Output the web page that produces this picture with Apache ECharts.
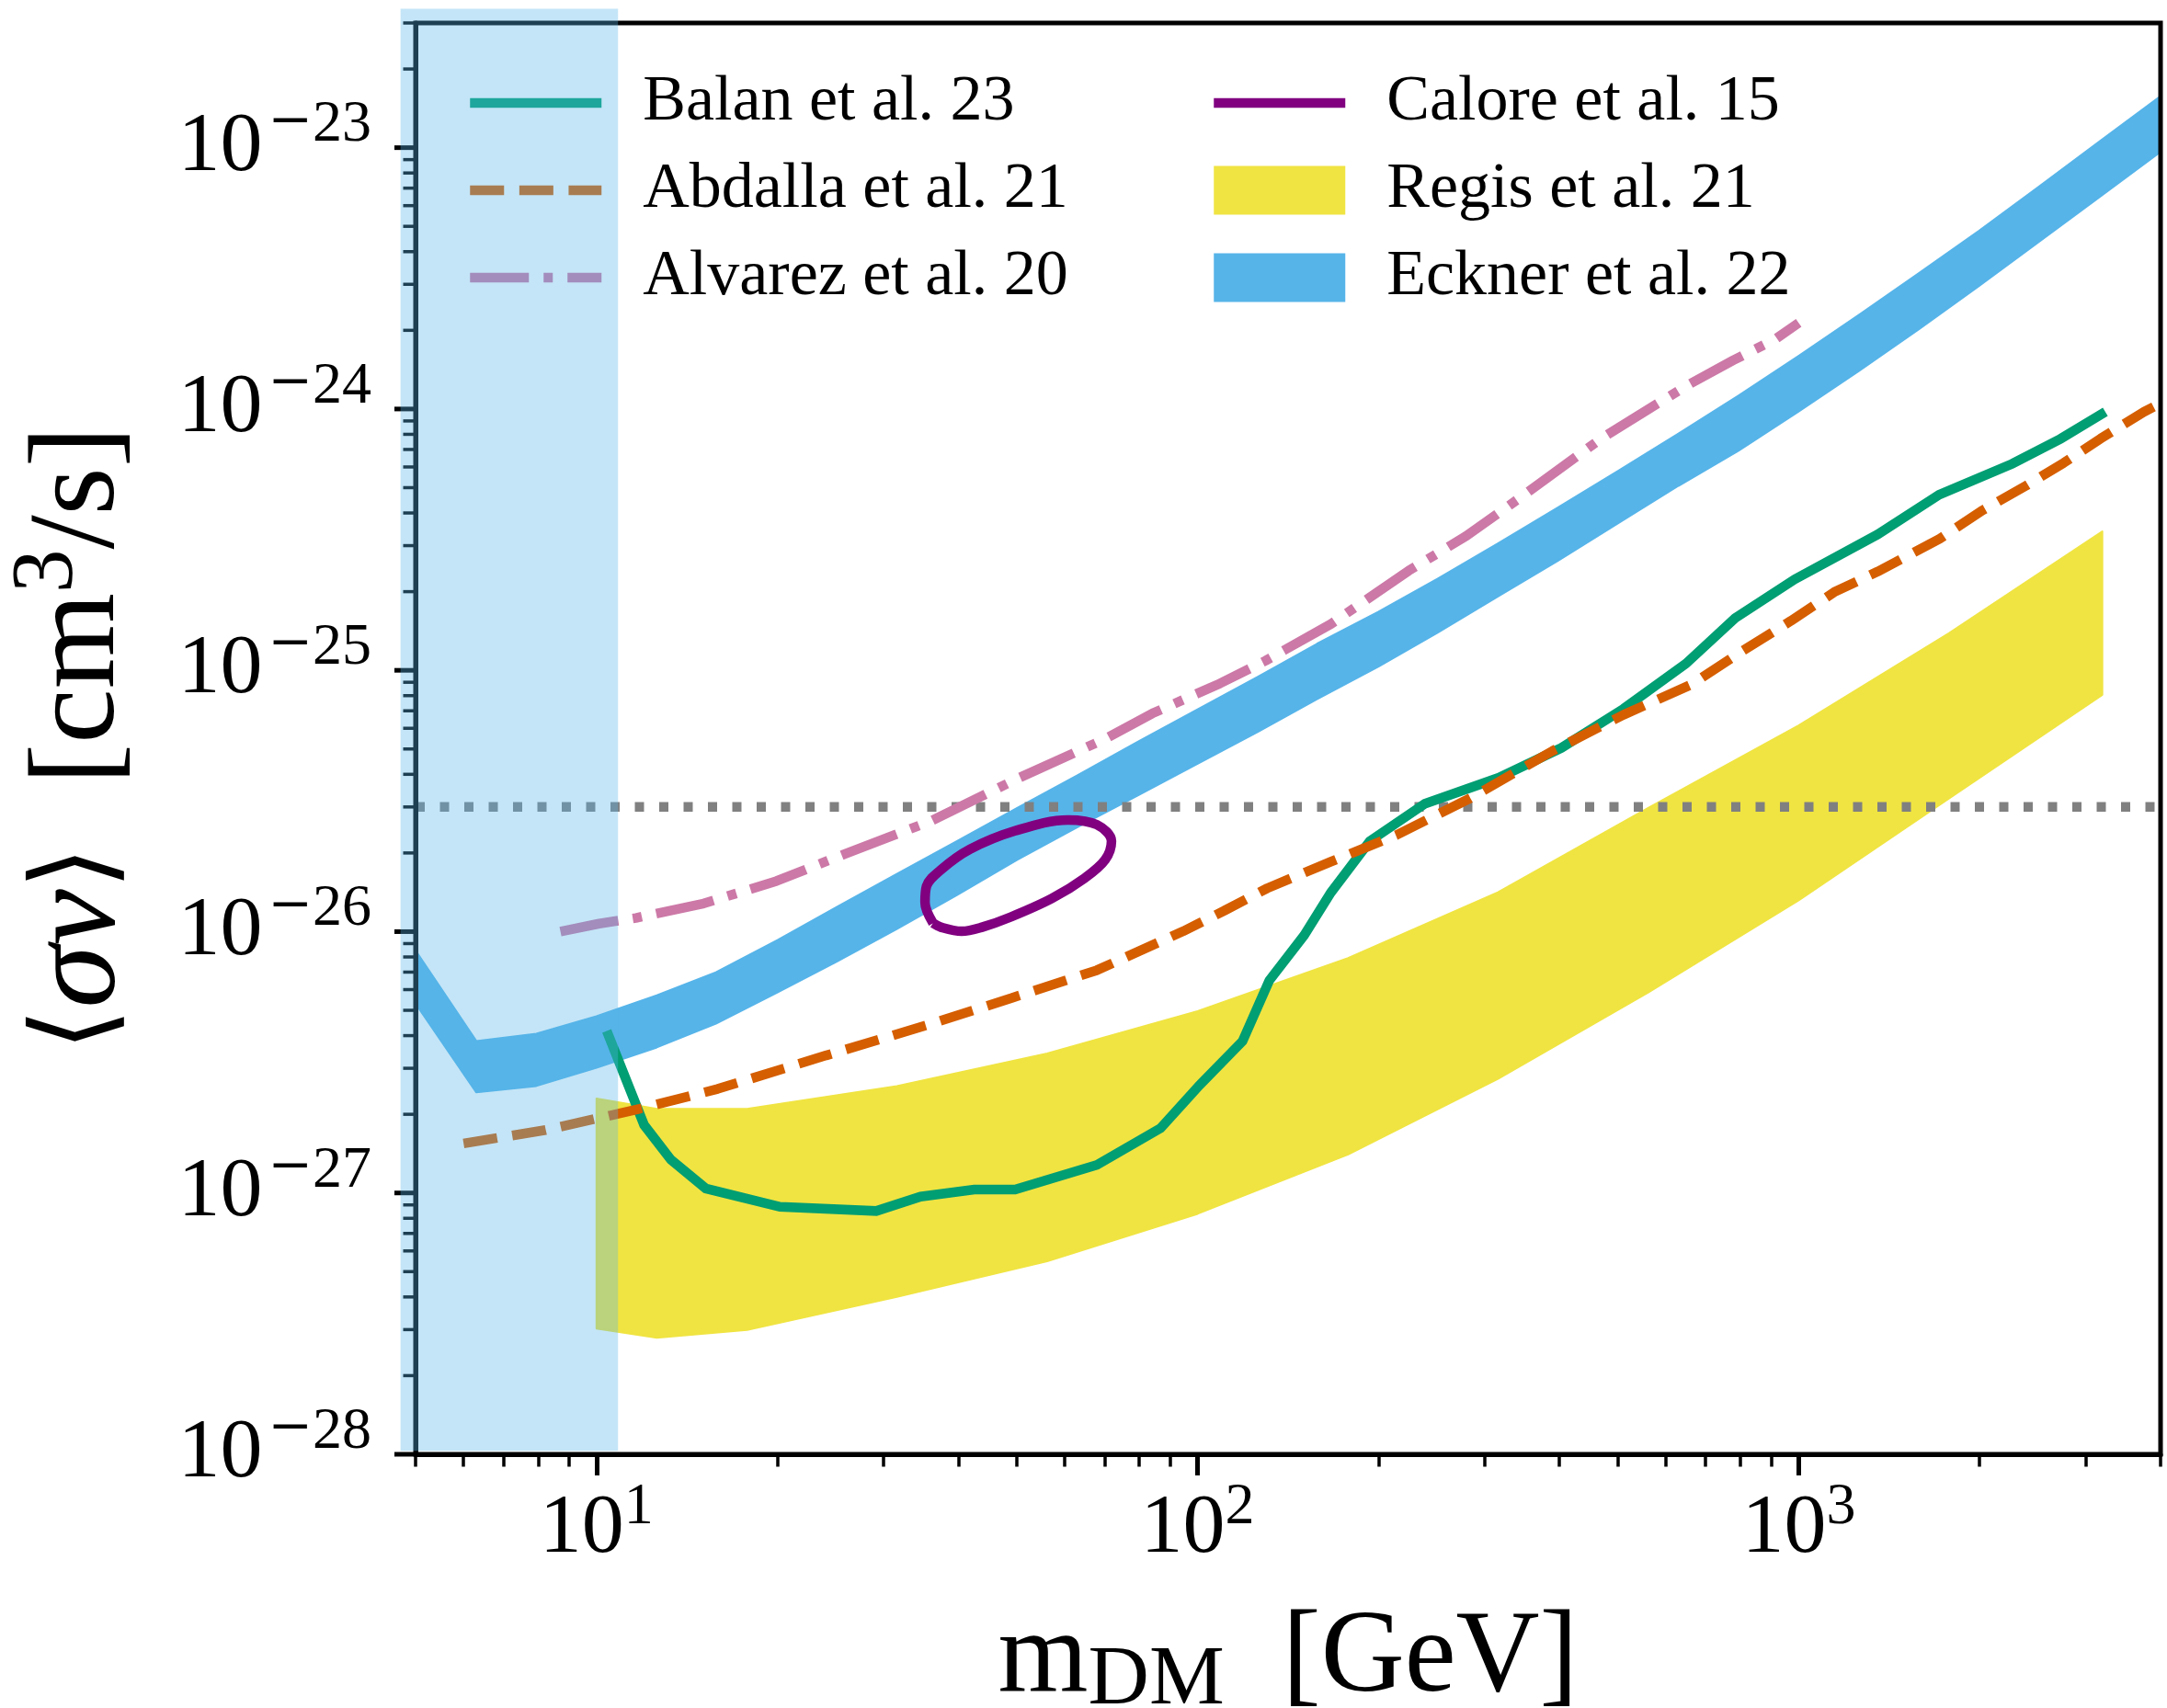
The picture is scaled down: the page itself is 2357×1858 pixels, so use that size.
<!DOCTYPE html>
<html>
<head>
<meta charset="utf-8">
<script src="https://cdn.jsdelivr.net/npm/echarts@6/dist/echarts.min.js"></script>
<style>
  html, body { margin: 0; padding: 0; background: #ffffff; }
  #chart { width: 2357px; height: 1858px; }
</style>
</head>
<body>
<div id="chart"></div>
<script>
// Axis ticks (GeV and cm^3/s)
const xMajorTicks = [10, 100, 1000];
const xMinorTicks = [5, 6, 7, 8, 9, 20, 30, 40, 50, 60, 70, 80, 90,
  200, 300, 400, 500, 600, 700, 800, 900, 2000, 3000, 4000];
const yMajorTicks = [1e-28, 1e-27, 1e-26, 1e-25, 1e-24, 1e-23];
const yMinorTicks = [
  2e-28, 3e-28, 4e-28, 5e-28, 6e-28, 7e-28, 8e-28, 9e-28,
  2e-27, 3e-27, 4e-27, 5e-27, 6e-27, 7e-27, 8e-27, 9e-27,
  2e-26, 3e-26, 4e-26, 5e-26, 6e-26, 7e-26, 8e-26, 9e-26,
  2e-25, 3e-25, 4e-25, 5e-25, 6e-25, 7e-25, 8e-25, 9e-25,
  2e-24, 3e-24, 4e-24, 5e-24, 6e-24, 7e-24, 8e-24, 9e-24,
  2e-23, 3e-23
];

// Balan et al. 23
const balanMass = [10.4, 12.0, 13.3, 15.2, 20.2, 29.2, 34.6, 42.5, 49.7, 68.0, 86.8, 100.8,
  118.8, 131.6, 150.4, 166.6, 193.4, 239, 317, 403, 511, 649, 784, 985, 1353, 1713, 2266, 2727, 3237];
const balanSigma = [4.17e-27, 1.82e-27, 1.34e-27, 1.04e-27, 8.85e-28, 8.53e-28, 9.68e-28, 1.03e-27,
  1.03e-27, 1.28e-27, 1.77e-27, 2.59e-27, 3.81e-27, 6.50e-27, 9.68e-27, 1.41e-26, 2.22e-26,
  3.09e-26, 3.88e-26, 5.05e-26, 7.12e-26, 1.06e-25, 1.585e-25, 2.23e-25, 3.31e-25, 4.70e-25,
  6.17e-25, 7.69e-25, 9.75e-25];

// Abdalla et al. 21
const abdallaMass = [6.01, 8.23, 9.94, 11.81, 15.9, 24.1, 36.3, 49.0, 68.0, 94.6, 110.7, 130.6,
  166.6, 214.2, 284.3, 389.3, 511, 664, 803, 971, 1146, 1353, 1716, 2025, 2391, 2758, 3180, 3754, 4000];
const abdallaSigma = [1.547e-27, 1.741e-27, 1.920e-27, 2.102e-27, 2.50e-27, 3.36e-27, 4.46e-27,
  5.57e-27, 7.12e-27, 1.003e-26, 1.202e-26, 1.466e-26, 1.853e-26, 2.343e-26, 3.243e-26, 4.91e-26,
  6.755e-26, 8.84e-26, 1.180e-25, 1.547e-25, 1.992e-25, 2.386e-25, 3.185e-25, 4.10e-25, 5.09e-25,
  6.21e-25, 7.71e-25, 9.75e-25, 1.051e-24];

// Alvarez et al. 20
const alvarezMass = [8.71, 10.1, 11.63, 15.08, 19.92, 25.8, 36.1, 50.5, 70.2, 84.1, 109, 129.6,
  166.6, 224.5, 279.9, 347.1, 468.7, 566.9, 654, 778.4, 912.5, 1000];
const alvarezSigma = [1.00e-26, 1.073e-26, 1.128e-26, 1.282e-26, 1.561e-26, 1.977e-26, 2.657e-26,
  3.88e-26, 5.47e-26, 6.84e-26, 8.91e-26, 1.087e-25, 1.503e-25, 2.405e-25, 3.266e-25, 4.645e-25,
  7.69e-25, 1.010e-24, 1.235e-24, 1.536e-24, 1.845e-24, 2.135e-24];

// Calore et al. 15 (closed contour)
const caloreMass = [36.3, 35.2, 35.4, 37.4, 41.8, 49.7, 60.9, 68.0, 71.9, 70.2, 64.9, 57.2,
  48.9, 43.8, 40.5, 37.4, 36.3];
const caloreSigma = [1.078e-26, 1.292e-26, 1.492e-26, 1.724e-26, 2.065e-26, 2.43e-26, 2.677e-26,
  2.565e-26, 2.22e-26, 1.886e-26, 1.603e-26, 1.339e-26, 1.138e-26, 1.040e-26, 1.003e-26,
  1.040e-26, 1.078e-26];

// Regis et al. 21 (band)
const regisMass = [10, 12.6, 17.8, 31.6, 56.2, 100, 178, 316, 562, 1000, 1778, 3200];
const regisUpper = [2.30e-27, 2.10e-27, 2.10e-27, 2.565e-27, 3.42e-27, 4.966e-27, 7.93e-27,
  1.414e-26, 2.973e-26, 6.15e-26, 1.387e-25, 3.40e-25];
const regisLower = [3.03e-28, 2.79e-28, 2.99e-28, 4.0e-28, 5.48e-28, 8.32e-28, 1.403e-27,
  2.735e-27, 5.85e-27, 1.318e-26, 3.232e-26, 8.06e-26];

// Eckner et al. 22 (band)
const ecknerMass = [5.01, 6.31, 7.94, 10.0, 12.6, 15.8, 20.0, 25.1, 31.6, 39.8, 50.1, 63.1, 79.4,
  100, 126, 158, 200, 251, 316, 398, 501, 631, 794, 1000, 1259, 1585, 1995, 2512, 3162, 3981];
const ecknerUpper = [8.42e-27, 3.815e-27, 4.07e-27, 4.745e-27, 5.71e-27, 6.99e-27, 9.28e-27,
  1.242e-26, 1.662e-26, 2.223e-26, 2.973e-26, 3.963e-26, 5.32e-26, 7.09e-26, 9.45e-26, 1.264e-25,
  1.678e-25, 2.245e-25, 3.062e-25, 4.207e-25, 5.808e-25, 8.054e-25, 1.125e-24, 1.596e-24, 2.291e-24,
  3.311e-24, 4.808e-24, 7.112e-24, 1.054e-23, 1.563e-23];
const ecknerLower = [5.27e-27, 2.425e-27, 2.566e-27, 3.016e-27, 3.604e-27, 4.446e-27, 5.855e-27,
  7.674e-27, 1.023e-26, 1.380e-26, 1.883e-26, 2.510e-26, 3.311e-26, 4.385e-26, 5.815e-26, 7.75e-26,
  1.033e-25, 1.393e-25, 1.915e-25, 2.628e-25, 3.655e-25, 5.08e-25, 6.918e-25, 9.772e-25, 1.396e-24,
  2.018e-24, 2.951e-24, 4.365e-24, 6.457e-24, 9.550e-24];

// Thermal relic cross section
const relicMass = [5, 4000];
const relicSigma = [3e-26, 3e-26];

// Excluded low-mass region
const shadeMass = [4.72, 10.86];
const shadeSigma = [1.03e-28, 3.4e-23];

const SERIF = 'Liberation Serif';
const X_MIN = 5, X_MAX = 4000, Y_MIN = 1e-28, Y_MAX = 3e-23;
const LINE_W = 10.5;

function pairs(xs, ys) { return xs.map((x, i) => [x, ys[i]]); }

function powLabel(v) {
  const e = Math.round(Math.log10(v));
  return e < 0 ? '{b|10}{m|\u2212}{s|' + (-e) + '}' : '{b|10}{s|' + e + '}';
}

const tickRich = {
  b: { fontFamily: SERIF, fontSize: 92, lineHeight: 112, color: '#000', fill: '#000' },
  m: { fontFamily: 'DejaVu Serif', fontSize: 58, lineHeight: 62, verticalAlign: 'top', color: '#000', fill: '#000',
       padding: [0, 0, 0, 6] },
  s: { fontFamily: SERIF, fontSize: 64, lineHeight: 62, verticalAlign: 'top', color: '#000', fill: '#000' }
};

function bandRenderer(mass, lo, hi, color) {
  return function (params, api) {
    const pts = [];
    for (let i = 0; i < mass.length; i++) pts.push(api.coord([mass[i], hi[i]]));
    for (let i = mass.length - 1; i >= 0; i--) pts.push(api.coord([mass[i], lo[i]]));
    return {
      type: 'polygon',
      shape: { points: pts },
      style: { fill: color, stroke: color, lineWidth: 2, lineJoin: 'round' }
    };
  };
}

// Left-axis ticks (and decade labels) placed through the y scale
function yTickRenderer(len, width, withLabel) {
  return function (params, api) {
    const v = api.value(1);
    const p = api.coord([X_MIN, v]);
    const children = [{
      type: 'line',
      shape: { x1: p[0] - len, y1: p[1], x2: p[0], y2: p[1] },
      style: { stroke: '#000', lineWidth: width }
    }];
    if (withLabel) {
      children.push({
        type: 'text',
        style: {
          text: powLabel(v), rich: tickRich, x: p[0] - 48, y: p[1],
          align: 'right', verticalAlign: 'middle', fill: '#000'
        }
      });
    }
    return { type: 'group', children: children };
  };
}

const C_BALAN = '#009E73', C_ABDALLA = '#D55E00', C_ALVAREZ = '#CC79A7',
      C_CALORE = '#800080', C_REGIS = '#F0E442', C_ECKNER = '#56B4E9';

const chart = echarts.init(document.getElementById('chart'), null, { renderer: 'canvas' });

const hiddenSymbol = { opacity: 0, color: 'rgba(0,0,0,0)', borderWidth: 0 };

const legendCommon = {
  orient: 'vertical',
  top: 72,
  itemWidth: 143,
  itemHeight: 53,
  itemGap: 25,
  selectedMode: false,
  lineStyle: { width: LINE_W },
  textStyle: { fontFamily: SERIF, fontSize: 70, lineHeight: 53, color: '#000', padding: [0, 0, 0, 40] }
};

const option = {
  animation: false,
  backgroundColor: '#ffffff',
  grid: {
    left: 452, top: 25, width: 1898, height: 1557,
    show: true, borderColor: '#000', borderWidth: 5, backgroundColor: 'transparent',
    z: 3, outerBoundsMode: 'none'
  },
  legend: [
    Object.assign({}, legendCommon, {
      left: 501,
      data: [
        { name: 'Balan et al. 23', itemStyle: hiddenSymbol },
        { name: 'Abdalla et al. 21', itemStyle: hiddenSymbol },
        { name: 'Alvarez et al. 20', itemStyle: hiddenSymbol }
      ]
    }),
    Object.assign({}, legendCommon, {
      left: 1310,
      data: [
        { name: 'Calore et al. 15', itemStyle: hiddenSymbol },
        { name: 'Regis et al. 21', icon: 'rect' },
        { name: 'Eckner et al. 22', icon: 'rect' }
      ]
    })
  ],
  xAxis: [
    {
      type: 'log', logBase: 10, min: X_MIN, max: X_MAX, position: 'bottom', z: 3,
      axisLine: { show: true, lineStyle: { color: '#000', width: 5 } },
      axisTick: { show: true, customValues: xMajorTicks, length: 23, lineStyle: { color: '#000', width: 5 } },
      axisLabel: {
        show: true, customValues: xMajorTicks, margin: 26, formatter: powLabel, rich: tickRich,
        hideOverlap: false
      },
      splitLine: { show: false },
      name: '{b|m}{sub|DM}{b|  [GeV]}',
      nameLocation: 'middle',
      nameGap: 155,
      nameTextStyle: {
        rich: {
          b: { fontFamily: SERIF, fontSize: 126, lineHeight: 138, color: '#000' },
          sub: { fontFamily: SERIF, fontSize: 92, lineHeight: 95, verticalAlign: 'bottom', color: '#000' }
        }
      }
    },
    {
      type: 'log', logBase: 10, min: X_MIN, max: X_MAX, position: 'bottom', z: 3,
      axisLine: { show: false },
      axisTick: { show: true, customValues: xMinorTicks, length: 13.5, lineStyle: { color: '#000', width: 3.5 } },
      axisLabel: { show: false },
      splitLine: { show: false }
    }
  ],
  yAxis: [
    {
      type: 'log', logBase: 10, min: Y_MIN, max: Y_MAX, position: 'left', z: 3,
      axisLine: { show: true, lineStyle: { color: '#000', width: 5 } },
      axisTick: { show: false },
      axisLabel: { show: false },
      splitLine: { show: false },
      name: '{a|\u27E8}{i|\u03C3v}{a|\u27E9}{b|  [cm}{s|3}{b|/s]}',
      nameLocation: 'middle',
      nameRotate: 90,
      nameGap: 282,
      nameTextStyle: {
        rich: {
          a: { fontFamily: 'DejaVu Sans', fontSize: 120, lineHeight: 164, color: '#000' },
          i: { fontFamily: SERIF, fontStyle: 'italic', fontSize: 138, lineHeight: 164, color: '#000' },
          b: { fontFamily: SERIF, fontSize: 134, lineHeight: 164, color: '#000' },
          s: { fontFamily: SERIF, fontSize: 95, lineHeight: 95, verticalAlign: 'top', color: '#000' }
        }
      }
    }
  ],
  series: [
    {
      name: 'Eckner et al. 22', type: 'custom', coordinateSystem: 'cartesian2d',
      xAxisIndex: 0, yAxisIndex: 0, clip: true, silent: true, z: 2,
      itemStyle: { color: C_ECKNER },
      renderItem: bandRenderer(ecknerMass, ecknerLower, ecknerUpper, C_ECKNER),
      data: [[ecknerMass[0], ecknerUpper[0]]]
    },
    {
      name: 'Regis et al. 21', type: 'custom', coordinateSystem: 'cartesian2d',
      xAxisIndex: 0, yAxisIndex: 0, clip: true, silent: true, z: 2,
      itemStyle: { color: C_REGIS },
      renderItem: bandRenderer(regisMass, regisLower, regisUpper, C_REGIS),
      data: [[regisMass[0], regisUpper[0]]]
    },
    {
      name: 'relic', type: 'line', xAxisIndex: 0, yAxisIndex: 0, symbol: 'none', silent: true, z: 2,
      lineStyle: { color: '#808080', width: LINE_W, type: [10, 16.5], cap: 'butt' },
      data: pairs(relicMass, relicSigma)
    },
    {
      name: 'Balan et al. 23', type: 'line', xAxisIndex: 0, yAxisIndex: 0, symbol: 'none', silent: true, z: 2,
      color: C_BALAN,
      lineStyle: { color: C_BALAN, width: LINE_W, join: 'miter' },
      data: pairs(balanMass, balanSigma)
    },
    {
      name: 'Abdalla et al. 21', type: 'line', xAxisIndex: 0, yAxisIndex: 0, symbol: 'none', silent: true, z: 2,
      color: C_ABDALLA,
      lineStyle: { color: C_ABDALLA, width: LINE_W, type: [37, 16.6], cap: 'butt' },
      data: pairs(abdallaMass, abdallaSigma)
    },
    {
      name: 'Alvarez et al. 20', type: 'line', xAxisIndex: 0, yAxisIndex: 0, symbol: 'none', silent: true, z: 2,
      color: C_ALVAREZ,
      lineStyle: { color: C_ALVAREZ, width: LINE_W, type: [64, 16, 10, 16], cap: 'butt' },
      data: pairs(alvarezMass, alvarezSigma)
    },
    {
      name: 'Calore et al. 15', type: 'line', xAxisIndex: 0, yAxisIndex: 0, symbol: 'none', silent: true, z: 2,
      color: C_CALORE, smooth: 0.35,
      lineStyle: { color: C_CALORE, width: LINE_W },
      data: pairs(caloreMass, caloreSigma)
    },
    {
      name: 'yMajorTicks', type: 'custom', coordinateSystem: 'cartesian2d',
      xAxisIndex: 0, yAxisIndex: 0, clip: false, silent: true, z: 3,
      renderItem: yTickRenderer(23, 5, true),
      data: yMajorTicks.map(v => [X_MIN, v])
    },
    {
      name: 'yMinorTicks', type: 'custom', coordinateSystem: 'cartesian2d',
      xAxisIndex: 0, yAxisIndex: 0, clip: false, silent: true, z: 3,
      renderItem: yTickRenderer(13.5, 3.5, false),
      data: yMinorTicks.map(v => [X_MIN, v])
    },
    {
      name: 'shade', type: 'custom', coordinateSystem: 'cartesian2d',
      xAxisIndex: 0, yAxisIndex: 0, clip: false, silent: true, z: 10,
      renderItem: function (params, api) {
        const p0 = api.coord([shadeMass[0], shadeSigma[1]]);
        const p1 = api.coord([shadeMass[1], shadeSigma[0]]);
        return {
          type: 'rect',
          shape: { x: p0[0], y: p0[1], width: p1[0] - p0[0], height: p1[1] - p0[1] },
          style: { fill: 'rgba(86,180,233,0.35)' }
        };
      },
      data: [[shadeMass[0], shadeSigma[0]]]
    }
  ]
};

chart.setOption(option);
</script>
</body>
</html>
